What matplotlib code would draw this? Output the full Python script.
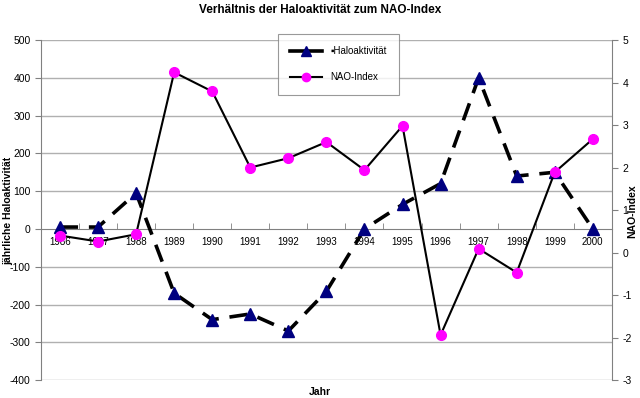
import matplotlib
matplotlib.use('Agg')
from matplotlib import pyplot as plt
from matplotlib.lines import Line2D

plt.rcParams['font.family'] = ['Liberation Sans', 'DejaVu Sans']
plt.rcParams['axes.unicode_minus'] = False

years = ['1986', '1987', '1988', '1989', '1990', '1991', '1992', '1993',
         '1994', '1995', '1996', '1997', '1998', '1999', '2000']
halo = [5, 5, 95, -170, -240, -225, -270, -165, 0, 65, 120, 400, 140, 150, 0]
nao = [0.40, 0.26, 0.43, 4.24, 3.79, 2.0, 2.22, 2.6, 1.94, 2.98, -1.94, 0.09, -0.47, 1.89, 2.67]

grid_col = '#b0b0b0'
axis_col = '#808080'

fig = plt.figure(figsize=(6.4, 3.98), dpi=100)
ax = fig.add_axes([0.064, 0.045, 0.892, 0.8545])
ax2 = ax.twinx()

x = list(range(len(years)))

# Haloaktivitaet (left axis)
ax.plot(x, halo, color='black', lw=2.6, linestyle=(0, (5, 3)),
        marker='^', markersize=8, markerfacecolor='#000080', markeredgecolor='#000080',
        zorder=3)
ax.set_ylim(-400, 500)
ax.set_yticks(range(-400, 501, 100))
ax.set_xlim(-0.5, len(years) - 0.5)
for v in range(-400, 501, 100):
    if v != 0:
        ax.axhline(v, color=grid_col, lw=1, zorder=0)

# x axis crosses at 0
ax.spines['bottom'].set_position(('data', 0))
ax.spines['bottom'].set_color(axis_col)
ax.spines['top'].set_visible(False)
ax.spines['right'].set_visible(False)
ax.spines['left'].set_color(axis_col)
ax.set_xticks(x)
ax.set_xticklabels(years)
ax.set_xticks([i + 0.5 for i in x[:-1]], minor=True)
ax.tick_params(axis='x', which='major', length=0, labelsize=7, pad=6)
ax.tick_params(axis='x', which='minor', length=4, color=axis_col, direction='in')
ax.tick_params(axis='y', length=4, color=axis_col, labelsize=7.5, direction='out')

# NAO-Index (right axis)
ax2.plot(x, nao, color='black', lw=1.5,
         marker='o', markersize=7, markerfacecolor='#ff00ff', markeredgecolor='#ff00ff',
         zorder=3)
ax2.set_ylim(-3, 5)
ax2.set_yticks(range(-3, 6))
for s in ['top', 'bottom', 'left']:
    ax2.spines[s].set_visible(False)
ax2.spines['right'].set_color(axis_col)
ax2.tick_params(axis='y', length=4, color=axis_col, labelsize=7.5, direction='out')

fig.text(0.5, 0.975, 'Verhältnis der Haloaktivität zum NAO-Index',
         ha='center', va='center', fontsize=8.5, fontweight='bold')
fig.text(0.5, 0.015, 'Jahr', ha='center', va='center', fontsize=7.5, fontweight='bold')
fig.text(0.013, 0.47, 'jährliche Haloaktivität', ha='center', va='center',
         rotation=90, fontsize=7.5, fontweight='bold')
fig.text(0.988, 0.47, 'NAO-Index', ha='center', va='center',
         rotation=90, fontsize=7.5, fontweight='bold')

handles = [
    Line2D([], [], color='black', lw=2.6, marker='^', markersize=7,
           markerfacecolor='#000080', markeredgecolor='#000080', markevery=[1]),
    Line2D([], [], color='black', lw=1.5, marker='o', markersize=6,
           markerfacecolor='#ff00ff', markeredgecolor='#ff00ff'),
]
leg = fig.legend(handles, ['\u25aaHaloaktivität', 'NAO-Index'],
                 loc='upper left', bbox_to_anchor=(0.434, 0.915),
                 fontsize=7, frameon=True, fancybox=False,
                 borderpad=1.3, labelspacing=1.6, handlelength=3.2,
                 handletextpad=0.9, borderaxespad=0)
leg.get_frame().set_edgecolor(axis_col)
leg.get_frame().set_linewidth(0.8)

fig.savefig('out.png', dpi=100)
